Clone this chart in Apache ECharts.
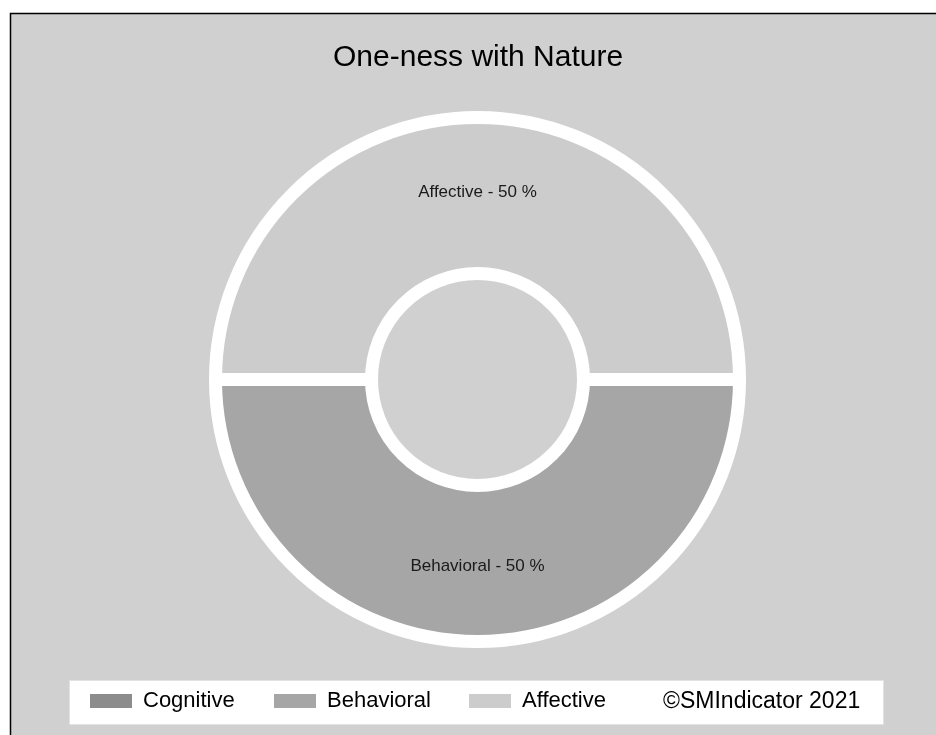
<!DOCTYPE html>
<html>
<head>
<meta charset="utf-8">
<script src="https://cdn.jsdelivr.net/npm/echarts@6/dist/echarts.min.js"></script>
<style>
html,body{margin:0;padding:0;background:#fff;}
#chart{width:936px;height:735px;}
</style>
</head>
<body>
<div id="chart"></div>
<script>
var categories = ['Cognitive', 'Behavioral', 'Affective'];
var values = [0, 50, 50];
var colors = ['#8c8c8c', '#a6a6a6', '#cccccc'];
var titleText = 'One-ness with Nature';
var copyrightText = '\u00A9SMIndicator 2021';

var chart = echarts.init(document.getElementById('chart'), null, {renderer: 'canvas'});
var font = 'Liberation Sans, Arial, sans-serif';
var legendLefts = [90, 274, 469];

var option = {
  backgroundColor: '#ffffff',
  animation: false,
  color: colors,
  title: {
    text: titleText,
    left: 333,
    top: 43,
    padding: 0,
    textStyle: {fontFamily: font, fontSize: 30, fontWeight: 'normal', color: '#000'}
  },
  graphic: [
    {type: 'rect', z: -10, silent: true,
     shape: {x: 10.5, y: 13.5, width: 1000, height: 1000},
     style: {fill: '#d0d0d0', stroke: '#000', lineWidth: 1.5}},
    {type: 'rect', z: -5, silent: true,
     shape: {x: 69.5, y: 680.5, width: 814, height: 44},
     style: {fill: '#ffffff', stroke: '#e2e2e2', lineWidth: 1}},
    {type: 'text', z: 10, silent: true,
     left: 663, top: 690,
     style: {text: copyrightText, fill: '#000', font: '23px ' + font}}
  ],
  legend: categories.map(function (c, i) {
    return {
      data: [c], left: legendLefts[i], top: 690, padding: 0,
      itemWidth: 42, itemHeight: 14, itemGap: 10,
      icon: 'rect',
      selectedMode: false,
      itemStyle: {borderWidth: 0},
      textStyle: {fontFamily: font, fontSize: 22, color: '#000', padding: [0,0,0,6]}
    };
  }),
  series: [{
    type: 'pie',
    center: [477.5, 379.5],
    radius: [106, 262],
    startAngle: 0,
    clockwise: true,
    avoidLabelOverlap: false,
    stillShowZeroSum: false,
    itemStyle: {borderColor: '#ffffff', borderWidth: 13},
    label: {
      show: true,
      position: 'inside',
      fontFamily: font,
      fontSize: 17,
      color: '#1a1a1a',
      formatter: function (p) { return p.value > 0 ? p.name + ' - ' + p.value + ' %' : ''; }
    },
    labelLine: {show: false},
    emphasis: {disabled: true},
    data: categories.map(function (c, i) { return {name: c, value: values[i]}; })
  }]
};
chart.setOption(option);
</script>
</body>
</html>
